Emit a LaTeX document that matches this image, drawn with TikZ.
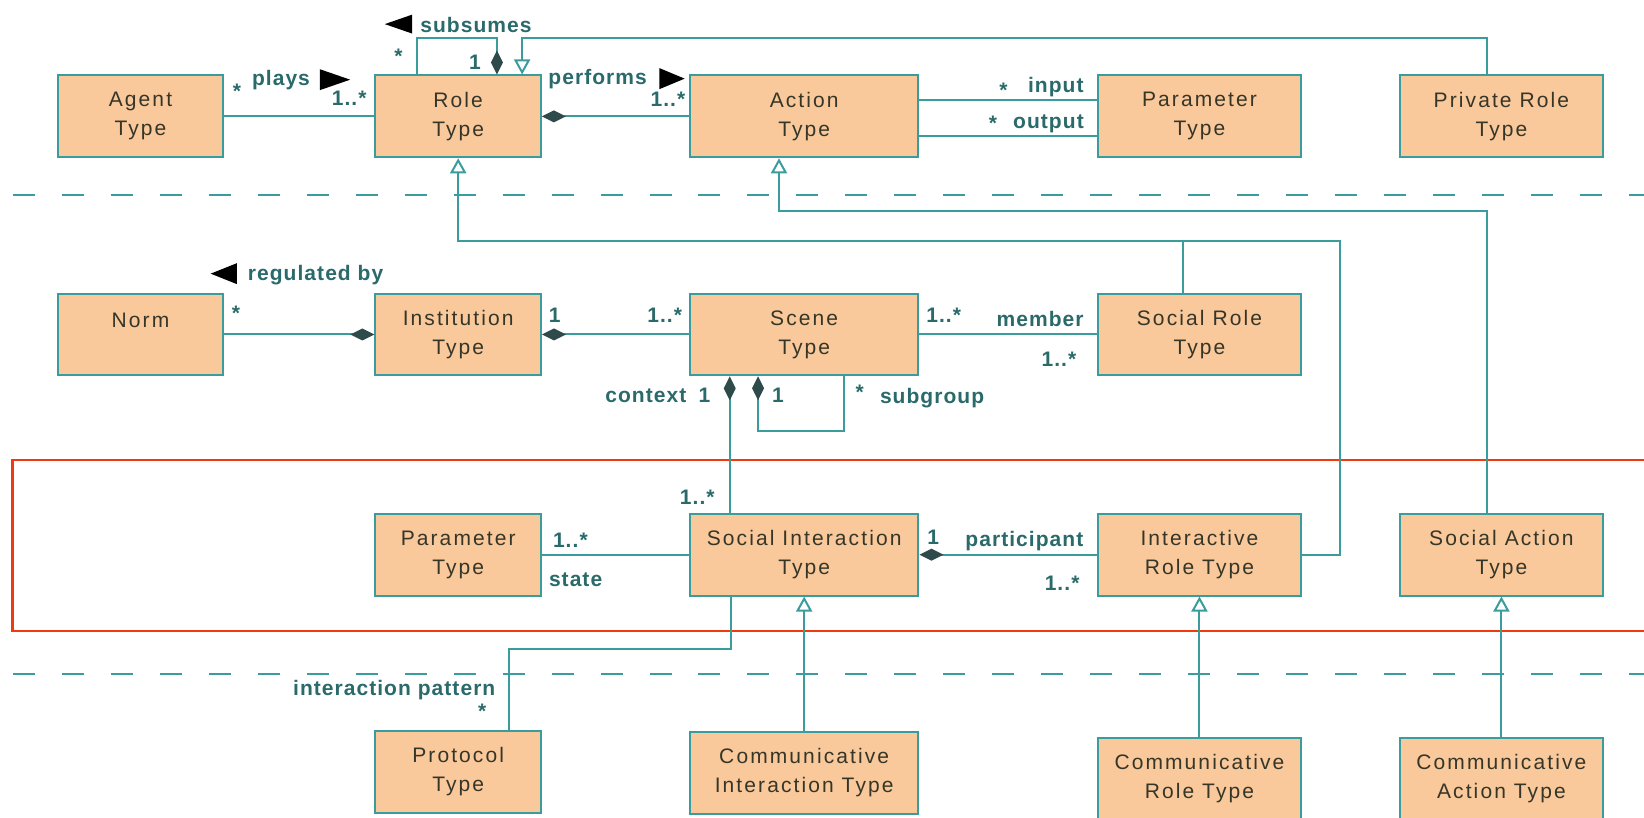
\documentclass[tikz,border=0pt]{standalone}
\usepackage{fontspec}
\setmainfont[LetterSpace=10]{Liberation Sans}
\newfontfamily\lblfont[LetterSpace=5]{Liberation Sans}
\usetikzlibrary{arrows.meta,calc}
\definecolor{umlline}{HTML}{3A9C9C}
\definecolor{umlfill}{HTML}{F9C89B}
\definecolor{umltext}{HTML}{363628}
\definecolor{umldark}{HTML}{2E4A4A}
\definecolor{lbltext}{HTML}{2A6A6A}
\definecolor{frame}{HTML}{F03A10}

\begin{document}
\begin{tikzpicture}[x=0.5243pt,y=-0.5243pt,
    every node/.style={font=\fontsize{10.5}{14.5}\selectfont},
    cls/.style={draw=umlline,fill=umlfill,line width=1pt,text=umltext,align=center,minimum height=40.9pt,inner sep=2pt},
    narrow/.style={cls,minimum width=82.8pt},
    wide/.style={cls,minimum width=114.3pt},
    mid/.style={cls,minimum width=101.8pt},
    assoc/.style={draw=umlline,line width=1pt},
    lbl/.style={text=lbltext,inner sep=0pt,font=\lblfont\fontsize{10.5}{14.5}\selectfont\bfseries},
    sep/.style={draw=umlline,line width=1.2pt,dash pattern=on 11pt off 13.5pt},
    Comp/.tip={Diamond[length=12pt,width=6pt,color=umldark]},
    Gen/.tip={Triangle[open,length=7.5pt,width=8pt,fill=white]}]
    \useasboundingbox (0,0) rectangle (1568,780);

    % layers
    \draw[sep] (12,186) -- (1568,186);
    \draw[sep] (12,643) -- (1568,643);
    \draw[frame,line width=1.2pt] (1568,439) -- (12,439) -- (12,602) -- (1568,602);

    % classes
    \node[narrow] (agent) at (134,111) {Agent\\Type};
    \node[narrow] (role) at (437,111) {Role\\Type};
    \node[wide] (action) at (767,111) {Action\\Type};
    \node[mid] (param) at (1144,111) {Parameter\\Type};
    \node[mid] (private) at (1432,111) {Private Role\\Type};

    \node[narrow] (norm) at (134,319) {Norm\\\mbox{}};
    \node[narrow] (inst) at (437,319) {Institution\\Type};
    \node[wide] (scene) at (767,319) {Scene\\Type};
    \node[mid] (socrole) at (1144,319) {Social Role\\Type};

    \node[narrow] (stateparam) at (437,529) {Parameter\\Type};
    \node[wide] (socint) at (767,529) {Social Interaction\\Type};
    \node[mid] (interrole) at (1144,529) {Interactive\\Role Type};
    \node[mid] (socaction) at (1432,529) {Social Action\\Type};

    \node[narrow] (protocol) at (437,736) {Protocol\\Type};
    \node[wide] (comminter) at (767,737) {Communicative\\Interaction Type};
    \node[mid] (commrole) at (1144,743) {Communicative\\Role Type};
    \node[mid] (commaction) at (1432,743) {Communicative\\Action Type};

    % top row
    \draw[assoc] (agent) -- (role);
    \node[lbl] (playsfrom) at (226,87) {*};
    \node[lbl] (plays) at (268,76) {plays};
    \fill (334,76) -- (305,66) -- (305,86) -- cycle;
    \node[lbl] (playsto) at (333,94) {1..*};

    \draw[assoc,Comp-] (role) -- (action);
    \node[lbl] (performs) at (570,75) {performs};
    \fill (653,75) -- (629,65) -- (629,85) -- cycle;
    \node[lbl] (performsto) at (637,95) {1..*};

    \draw[assoc,-Comp] ($(role.north)+(-39,0)$) |- ($(role.north)+(37,-35)$) -- ($(role.north)+(37,0)$);
    \fill (367,23) -- (393,14) -- (393,32) -- cycle;
    \node[lbl] (subsumes) at (454,24) {subsumes};
    \node[lbl] (subfrom) at (380,54) {*};
    \node[lbl] (subto) at (453,59) {1};

    \coordinate (privup) at ($(private.north)+(-14,0)$);
    \draw[assoc,-Gen] (privup) |- ($(role.north)+(61,-35)$) -- ($(role.north)+(61,0)$);

    \draw[assoc] ($(action.east)+(0,-16)$) -- ($(param.west)+(0,-16)$);
    \draw[assoc] ($(action.east)+(0,19)$) -- ($(param.west)+(0,19)$);
    \node[lbl] (inmult) at (957,86) {*};
    \node[lbl] (input) at (1007,83) {input};
    \node[lbl] (outmult) at (947,118) {*};
    \node[lbl] (output) at (1000,118) {output};

    % generalisations across the layers
    \coordinate (rolebus) at (1278,230);
    \draw[assoc,-Gen] (interrole.east) -| (rolebus) -| (role.south);
    \coordinate (socroleup) at ($(socrole.north)+(-16,0)$);
    \draw[assoc] (socroleup) -- (socroleup |- rolebus);

    \coordinate (socactup) at ($(socaction.north)+(-14,0)$);
    \draw[assoc,-Gen] (socactup) |- ($(action.south)+(-24,50)$) -- ($(action.south)+(-24,0)$);

    % middle row
    \draw[assoc,-Comp] (norm) -- (inst);
    \fill (201,261) -- (226,251) -- (226,271) -- cycle;
    \node[lbl] (regulated) at (301,262) {regulated by};
    \node[lbl] (normmult) at (225,299) {*};

    \draw[assoc,Comp-] (inst) -- (scene);
    \node[lbl] (instmult) at (529,301) {1};
    \node[lbl] (scenemult) at (634,301) {1..*};

    \draw[assoc] (scene) -- (socrole);
    \node[lbl] (memfrom) at (900,301) {1..*};
    \node[lbl] (member) at (992,304) {member};
    \node[lbl] (memto) at (1010,343) {1..*};

    \draw[assoc,Comp-] ($(scene.south)+(-44,0)$) |- ($(scene.south)+(38,52)$) -- ($(scene.south)+(38,0)$);
    \node[lbl] (subgfrom) at (742,377) {1};
    \node[lbl] (subgmult) at (820,374) {*};
    \node[lbl] (subgroup) at (889,380) {subgroup};

    \draw[assoc,Comp-] ($(scene.south)+(-71,0)$) -- ($(socint.north)+(-71,0)$);
    \node[lbl] (context) at (616,377) {context};
    \node[lbl] (ctxfrom) at (672,377) {1};
    \node[lbl] (ctxto) at (665,474) {1..*};

    % interaction row
    \draw[assoc] (stateparam) -- (socint);
    \node[lbl] (statemult) at (544,515) {1..*};
    \node[lbl] (state) at (549,553) {state};

    \draw[assoc,Comp-] (socint) -- (interrole);
    \node[lbl] (partfrom) at (890,512) {1};
    \node[lbl] (participant) at (977,516) {participant};
    \node[lbl] (partto) at (1013,556) {1..*};

    \draw[assoc] ($(socint.south)+(-70,0)$) |- ($(protocol.north)+(48,-77)$) -- ($(protocol.north)+(48,0)$);
    \node[lbl] (pattern) at (376,658) {interaction pattern};
    \node[lbl] (patmult) at (460,678) {*};

    % bottom row
    \draw[assoc,-Gen] (comminter) -- (socint);
    \draw[assoc,-Gen] (commrole) -- (interrole);
    \draw[assoc,-Gen] (commaction) -- (socaction);
\end{tikzpicture}
\end{document}
